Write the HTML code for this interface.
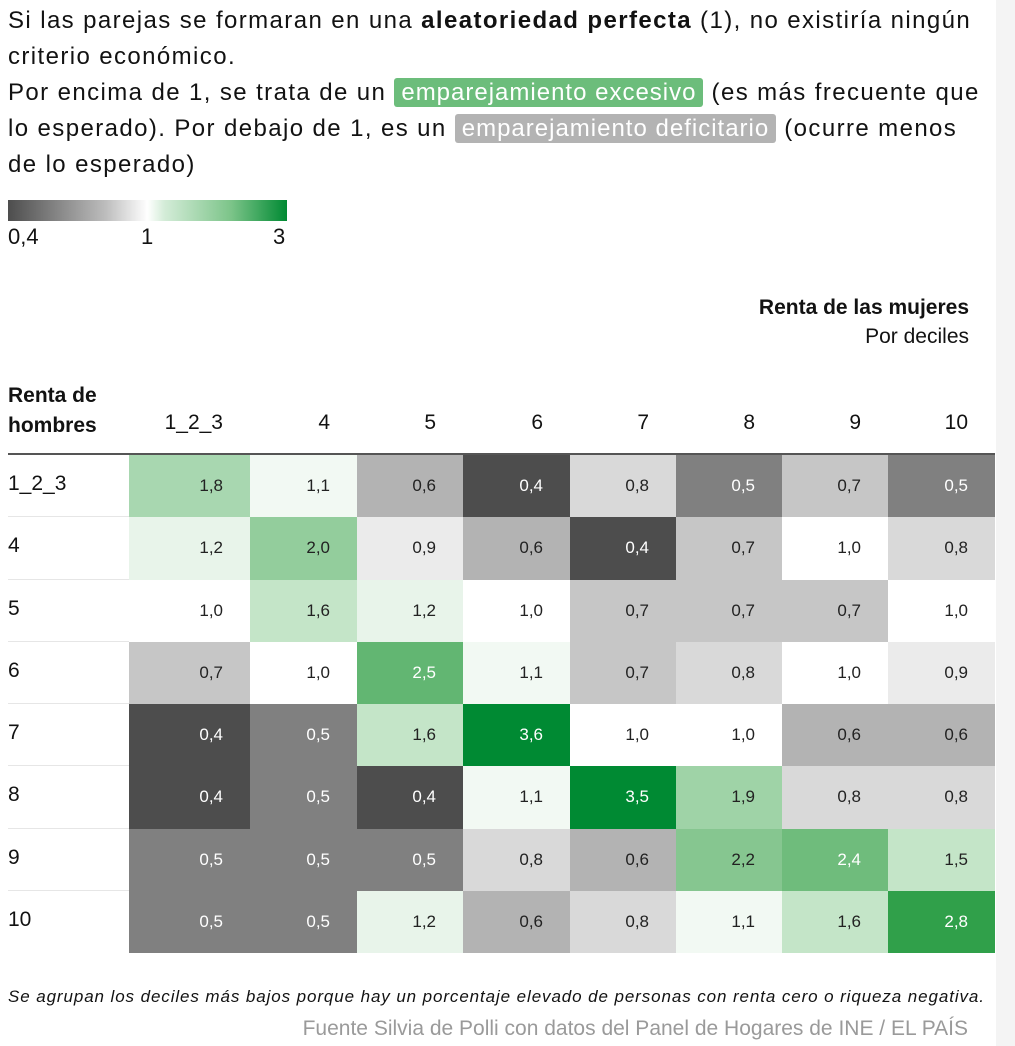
<!DOCTYPE html>
<html><head><meta charset="utf-8"><style>
body{margin:0;width:1015px;height:1046px;background:#fff;font-family:"Liberation Sans",sans-serif;color:#121212;position:relative;overflow:hidden}
.strip{position:absolute;left:996px;top:0;width:19px;height:1046px;background:#f4f4f4}
.intro{position:absolute;left:8px;top:3px;width:1000px;font-size:24px;line-height:36px;letter-spacing:1.4px;white-space:nowrap}
.pill{padding:1px 7px;color:#fff;border-radius:3px;letter-spacing:1px}
.t{position:absolute;white-space:nowrap}
</style></head><body>
<div class="strip"></div>
<div class="intro">Si las parejas se formaran en una <b>aleatoriedad perfecta</b> (1), no existiría ningún<br>criterio económico.<br>Por encima de 1, se trata de un <span class="pill" style="background:#6cbd7b">emparejamiento excesivo</span> (es más frecuente que<br>lo esperado). Por debajo de 1, es un <span class="pill" style="background:#b3b3b3">emparejamiento deficitario</span> (ocurre menos<br>de lo esperado)</div>
<div style="position:absolute;left:8px;top:200px;width:279px;height:21px;background:linear-gradient(to right,#4d4d4d,#bdbdbd 35%,#fff 50%,#d4ecd8 56%,#7cc489 80%,#008a33)"></div>
<div class="t" style="left:8px;top:224px;font-size:22px">0,4</div>
<div class="t" style="left:141px;top:224px;font-size:22px">1</div>
<div class="t" style="left:273px;top:224px;font-size:22px">3</div>
<div class="t" style="right:46px;top:296px;font-size:21px;font-weight:bold;text-align:right">Renta de las mujeres</div>
<div class="t" style="right:46px;top:325px;font-size:21px;text-align:right">Por deciles</div>
<div class="t" style="left:8px;top:381px;font-size:21px;font-weight:bold;line-height:30px">Renta de<br>hombres</div>
<div id="grid"></div>
<div class="t" style="left:8px;top:987px;font-size:17px;font-style:italic;letter-spacing:0.9px">Se agrupan los deciles más bajos porque hay un porcentaje elevado de personas con renta cero o riqueza negativa.</div>
<div class="t" style="right:47px;top:1017px;font-size:21px;color:#9a9a9a">Fuente Silvia de Polli con datos del Panel de Hogares de INE / EL PAÍS</div>
<script>
const cats=["1_2_3","4","5","6","7","8","9","10"];
const values=[
[1.8,1.1,0.6,0.4,0.8,0.5,0.7,0.5],
[1.2,2.0,0.9,0.6,0.4,0.7,1.0,0.8],
[1.0,1.6,1.2,1.0,0.7,0.7,0.7,1.0],
[0.7,1.0,2.5,1.1,0.7,0.8,1.0,0.9],
[0.4,0.5,1.6,3.6,1.0,1.0,0.6,0.6],
[0.4,0.5,0.4,1.1,3.5,1.9,0.8,0.8],
[0.5,0.5,0.5,0.8,0.6,2.2,2.4,1.5],
[0.5,0.5,1.2,0.6,0.8,1.1,1.6,2.8]];
const colX=[129,250,357,463,570,676,782,888,995];
const y0=455,rh=62.25;
function color(v){
 const g=[[0.4,"#4d4d4d"],[0.5,"#808080"],[0.6,"#b3b3b3"],[0.7,"#c6c6c6"],[0.8,"#d9d9d9"],[0.9,"#ebebeb"],[1.0,"#ffffff"],[1.1,"#f2f9f3"],[1.2,"#e8f4ea"],[1.5,"#c4e5c8"],[1.6,"#c4e5c8"],[1.8,"#a8d7b0"],[1.9,"#9fd3a7"],[2.0,"#93cd9c"],[2.2,"#86c690"],[2.4,"#6fbc7c"],[2.5,"#62b672"],[2.8,"#30a04a"],[3.5,"#008a33"]];
 let c=g[0][1];for(const [k,col] of g){if(v>=k-0.001)c=col;}return c;}
const grid=document.getElementById('grid');
function add(el){grid.appendChild(el);return el;}
const headerRule=document.createElement('div');


headerRule.style.cssText='position:absolute;left:8px;top:453px;width:987px;height:2px;background:#555';
add(headerRule);
cats.forEach((c,i)=>{
 const h=document.createElement('div');
 
 
 h.className='t';h.textContent=c;
 h.style.cssText=`left:${colX[i]}px;width:${colX[i+1]-colX[i]}px;top:411px;font-size:21px;text-align:right;box-sizing:border-box;padding-right:27px`;
 add(h);
 const r=document.createElement('div');
 
 
 r.className='t';r.textContent=c;
 r.style.cssText=`left:8px;top:${y0+i*rh+17}px;font-size:21px`;
 add(r);
 if(i>0){const l=document.createElement('div');
 
 
 l.style.cssText=`position:absolute;left:8px;top:${y0+i*rh-1}px;width:987px;height:1px;background:#e6e6e6`;add(l);}
});
values.forEach((row,i)=>row.forEach((v,j)=>{
 const d=document.createElement('div');
 
 
 const light=v<=0.5||v>=2.4;
 d.style.cssText=`position:absolute;left:${colX[j]}px;top:${y0+i*rh}px;width:${colX[j+1]-colX[j]}px;height:${rh}px;background:${color(v)};color:${light?'#fff':'#222'};font-size:17px;line-height:${rh}px;text-align:right;box-sizing:border-box;padding-right:27px`;
 d.textContent=v.toFixed(1).replace('.',',');
 add(d);
}));
</script>
</body></html>
